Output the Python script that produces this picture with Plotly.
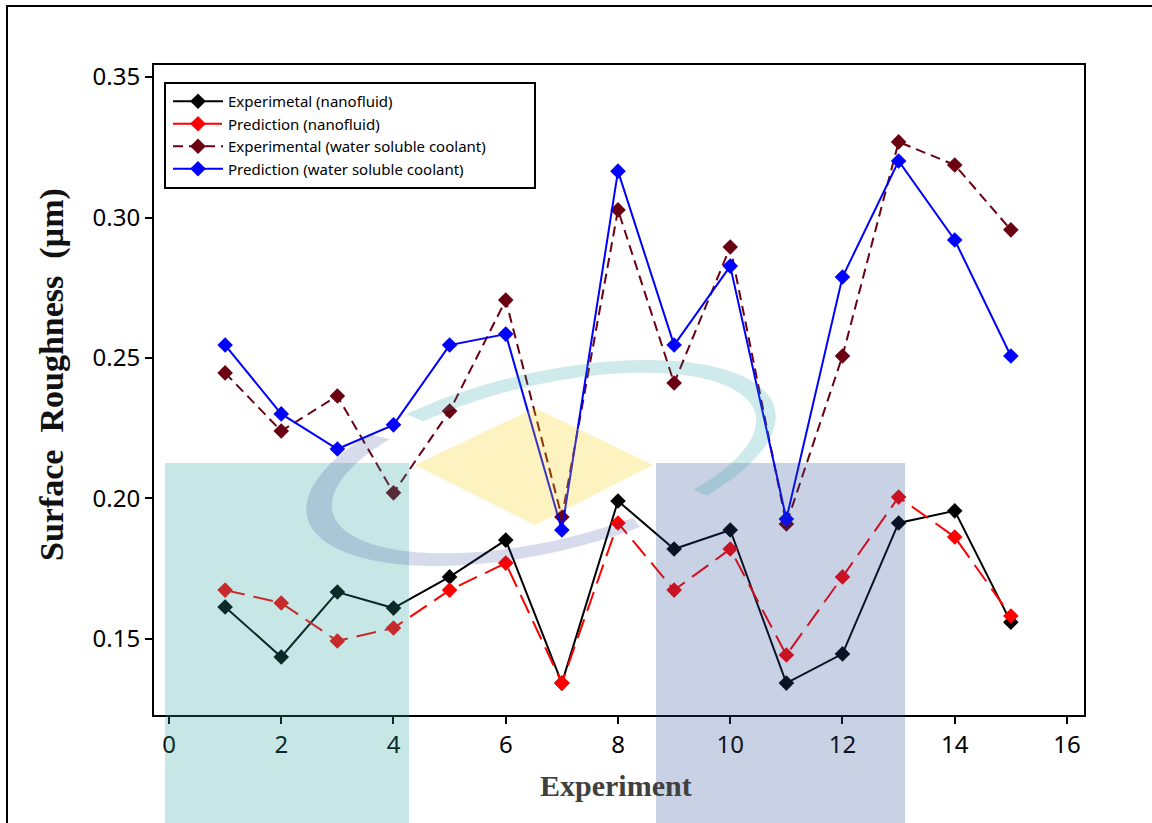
import numpy as np
import plotly.graph_objects as go

# Experiment numbers and measured / predicted surface roughness (µm)
experiment = list(range(1, 16))
exp_nano = [0.1614, 0.1436, 0.1667, 0.1610, 0.1721, 0.1852, 0.1343, 0.1991,
            0.1820, 0.1888, 0.1343, 0.1447, 0.1913, 0.1956, 0.1560]
pred_nano = [0.1674, 0.1628, 0.1493, 0.1539, 0.1674, 0.1770, 0.1343, 0.1913,
             0.1674, 0.1820, 0.1443, 0.1721, 0.2005, 0.1863, 0.1582]
exp_water = [0.2447, 0.2240, 0.2365, 0.2020, 0.2311, 0.2706, 0.1934, 0.3027,
             0.2411, 0.2895, 0.1909, 0.2507, 0.3269, 0.3187, 0.2956]
pred_water = [0.2546, 0.2301, 0.2176, 0.2262, 0.2546, 0.2585, 0.1888, 0.3165,
              0.2546, 0.2827, 0.1927, 0.2788, 0.3201, 0.2920, 0.2507]

series_names = ["Experimetal (nanofluid)", "Prediction (nanofluid)",
                "Experimental (water soluble coolant)", "Prediction (water soluble coolant)"]
x_ticks = [0, 2, 4, 6, 8, 10, 12, 14, 16]
y_ticks = [0.15, 0.20, 0.25, 0.30, 0.35]

W, H = 1152, 823
L, R, T, B = 154, 68, 65, 108
PW, PH = W - L - R, H - T - B


def fx(px):
    return (px - L) / PW


def fy(py):
    return (H - B - py) / PH


fig = go.Figure()
styles = [
    dict(color="#000000", dash="solid"),
    dict(color="#ff0000", dash="20px,9px"),
    dict(color="#6a0012", dash="10px,6px"),
    dict(color="#0000ff", dash="solid"),
]
for i, (name, ys, st) in enumerate(zip(series_names, [exp_nano, pred_nano, exp_water, pred_water], styles)):
    fig.add_trace(go.Scatter(
        x=experiment, y=ys, name=name, mode="lines+markers", legendgroup=f"g{i}",
        line=dict(color=st["color"], width=2, dash=st["dash"]),
        marker=dict(symbol="diamond", size=12, color=st["color"], line=dict(width=0)),
    ))

shapes = []
# outer frame
shapes.append(dict(type="rect", xref="paper", yref="paper", layer="below",
                   x0=fx(7), x1=fx(1170), y0=fy(840), y1=fy(6),
                   line=dict(color="black", width=2), fillcolor="rgba(0,0,0,0)"))
# legend box
shapes.append(dict(type="rect", xref="paper", yref="paper", layer="below",
                   x0=fx(165), x1=fx(535), y0=fy(188), y1=fy(83),
                   line=dict(color="black", width=2), fillcolor="white"))

# Watermark: translucent blocks, diamond and swoosh ring drawn over the chart
shapes.append(dict(type="rect", xref="paper", yref="paper", layer="above",
                   x0=fx(165), x1=fx(409), y0=fy(840), y1=fy(463),
                   line=dict(width=0), fillcolor="rgba(38,161,161,0.26)"))
shapes.append(dict(type="rect", xref="paper", yref="paper", layer="above",
                   x0=fx(656), x1=fx(905), y0=fy(840), y1=fy(463),
                   line=dict(width=0), fillcolor="rgba(40,76,148,0.25)"))
diamond = [(415, 465), (535, 408), (653, 465), (535, 525)]
path = "M " + " L ".join(f"{fx(a):.5f},{fy(b):.5f}" for a, b in diamond) + " Z"
shapes.append(dict(type="path", xref="paper", yref="paper", layer="above", path=path,
                   line=dict(width=0), fillcolor="rgba(248,208,4,0.25)"))


def ring_band(t0, t1, cx=541, cy=463, rxo=240, ryo=90, rxi=217, ryi=78, dx=3, rot=-13):
    th = np.deg2rad(rot)
    ts = np.deg2rad(np.linspace(t0, t1, 80))

    def pts(ccx, rx, ry, tt):
        ex, ey = rx * np.cos(tt), ry * np.sin(tt)
        return ccx + ex * np.cos(th) - ey * np.sin(th), cy + ex * np.sin(th) + ey * np.cos(th)

    ox, oy = pts(cx, rxo, ryo, ts)
    ix, iy = pts(cx + dx, rxi, ryi, ts[::-1])
    xs = np.concatenate([ox, ix])
    ys = np.concatenate([oy, iy])
    return "M " + " L ".join(f"{fx(a):.5f},{fy(b):.5f}" for a, b in zip(xs, ys)) + " Z"


shapes.append(dict(type="path", xref="paper", yref="paper", layer="above",
                   path=ring_band(70, 228), line=dict(width=0),
                   fillcolor="rgba(36,56,144,0.18)"))
shapes.append(dict(type="path", xref="paper", yref="paper", layer="above",
                   path=ring_band(240, 410), line=dict(width=0),
                   fillcolor="rgba(38,161,161,0.22)"))

tick_font = dict(family="Noto Sans", size=24, color="#000000")
axis_common = dict(showline=True, linewidth=2, linecolor="black", mirror=True,
                   ticks="outside", ticklen=7, tickwidth=2, tickcolor="black",
                   showgrid=False, zeroline=False, tickfont=tick_font)

fig.update_layout(
    width=W, height=H, autosize=False,
    margin=dict(l=L, r=R, t=T, b=B),
    paper_bgcolor="white", plot_bgcolor="white",
    showlegend=True,
    legend=dict(x=fx(168), y=fy(85), xanchor="left", yanchor="top",
                bgcolor="rgba(0,0,0,0)", borderwidth=0,
                font=dict(family="Noto Sans", size=15, color="#000000"),
                tracegroupgap=0, itemwidth=50),
    xaxis=dict(range=[-0.267, 16.303], tickvals=x_ticks, **axis_common),
    yaxis=dict(range=[0.12295, 0.35427], tickvals=y_ticks, tickformat=".2f", **axis_common),
    shapes=shapes,
    annotations=[
        dict(text="Experiment", xref="paper", yref="paper", x=fx(616), y=fy(785),
             xanchor="center", yanchor="middle", showarrow=False,
             font=dict(family="Liberation Serif", size=30, color="#404040", weight="bold")),
        dict(text="Surface\u00a0 Roughness\u00a0 (µm)", xref="paper", yref="paper",
             x=fx(52), y=fy(375), xanchor="center", yanchor="middle", textangle=-90,
             showarrow=False,
             font=dict(family="Liberation Serif", size=34, color="#111111", weight="bold")),
    ],
)

fig.write_html("out.html")
